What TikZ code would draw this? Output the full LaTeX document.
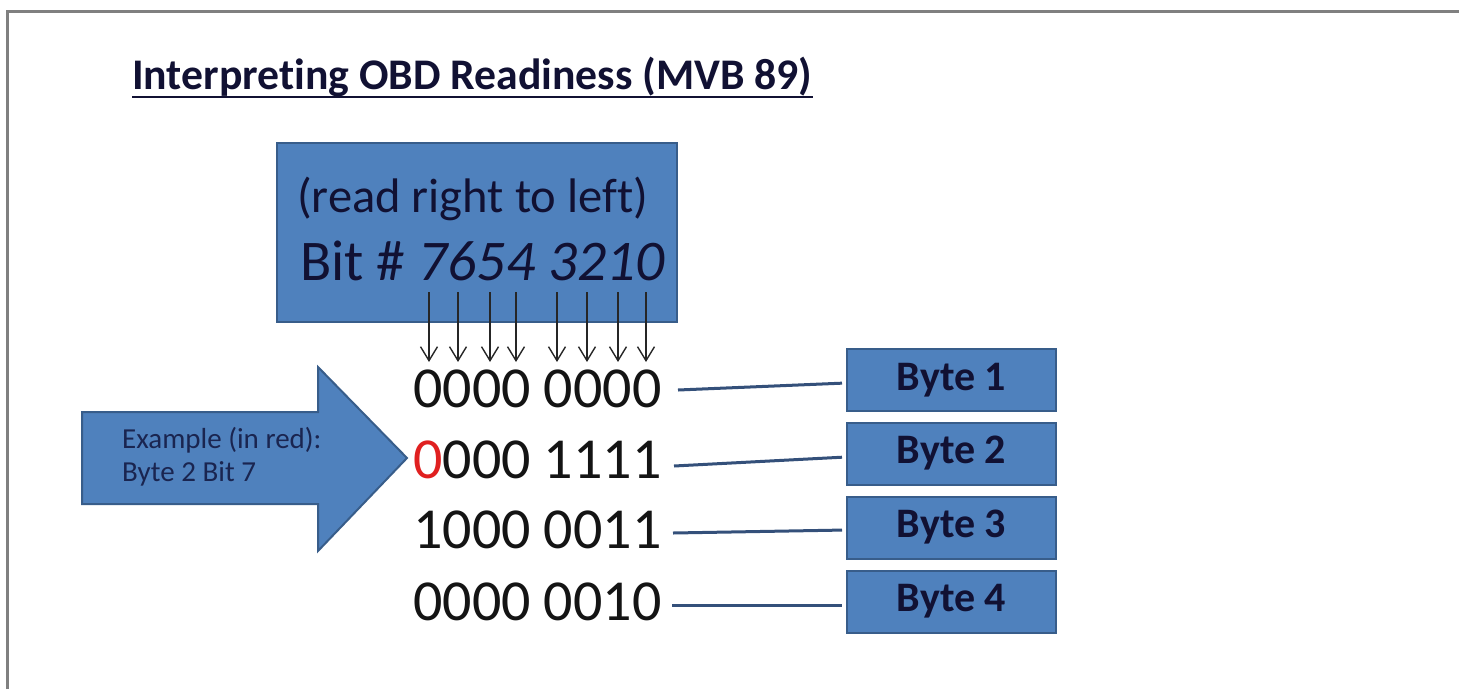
\documentclass[tikz,border=0pt]{standalone}
\usepackage{fontspec}
\setmainfont{Carlito}[Ligatures=NoCommon]
\usetikzlibrary{arrows.meta,calc}
\definecolor{boxblue}{HTML}{4F81BD}
\definecolor{boxedge}{HTML}{385D8A}
\definecolor{navy}{HTML}{111133}
\definecolor{exnavy}{HTML}{1A2550}
\definecolor{framegray}{HTML}{808080}
\definecolor{linkblue}{HTML}{34507A}
\definecolor{ered}{HTML}{E02020}
\begin{document}
\begin{tikzpicture}[x=1pt,y=-1pt,
  txt/.style={inner sep=0pt, anchor=base west},
  bluebox/.style={draw=boxedge, fill=boxblue, line width=2pt},
  bytebox/.style={bluebox, minimum width=209pt, minimum height=62pt, inner sep=0pt, font=\fontsize{42}{50}\selectfont\bfseries, text=navy},
  link/.style={draw=linkblue, line width=3pt, shorten >=4pt},
  bitarrow/.style={draw=black!85, line width=1.4pt, -{Straight Barb[length=14pt,width=17pt]}},
  digits/.style={txt, font=\fontsize{58}{68}\selectfont, text=black!92}
]
\useasboundingbox (0,0) rectangle (1459,689);
\draw[framegray, line width=3pt] (7,689) -- (7,11) -- (1459,11);
% title
\node[txt, font=\fontsize{43.7}{52}\selectfont\bfseries, text=navy] (title) at (132,89) {Interpreting OBD Readiness (MVB 89)};
\draw[navy, line width=2.5pt] ([yshift=-8pt]title.base west) -- ([yshift=-8pt]title.base east);
% bit box
\node[bluebox, minimum width=400pt, minimum height=179pt, inner sep=0pt] (bitbox) at (477,232.5) {};
\node[txt, font=\fontsize{48.5}{56}\selectfont, text=navy] (readdir) at (297,212) {(read right to left)};
\node[txt, font=\fontsize{57.5}{68}\selectfont, text=navy] (bitnum) at (300,280) {Bit \# \textit{7654 3210}};
\foreach \x [count=\i] in {429,458,490,516,557,587,618,646} {
  \coordinate (bs\i) at (\x,292);
  \coordinate (be\i) at (\x,362);
  \draw[bitarrow] (bs\i) -- (be\i);
}
% rows
\node[digits] (row1) at (413,407) {0000 0000};
\node[digits] (row2) at (413,478) {\textcolor{ered}{0}000 1111};
\node[digits] (row3) at (413,548) {1000 0011};
\node[digits] (row4) at (413,620) {0000 0010};
% byte boxes
\node[bytebox] (b1) at (951.5,380) {Byte 1};
\node[bytebox] (b2) at (951.5,453.5) {Byte 2};
\node[bytebox] (b3) at (951.5,527.5) {Byte 3};
\node[bytebox] (b4) at (951.5,601.5) {Byte 4};
\coordinate (l1) at (678,390);
\coordinate (l2) at (674,466);
\coordinate (l3) at (673,533);
\coordinate (l4) at (672,605);
\draw[link] (l1) -- ([yshift=-3pt]b1.west);
\draw[link] (l2) -- ([yshift=-3.5pt]b2.west);
\draw[link] (l3) -- ([yshift=-2.5pt]b3.west);
\draw[link] (l4) -- ([yshift=-3.5pt]b4.west);
% example arrow
\draw[bluebox] (82,412) -- (318,412) -- (318,367) -- (407,458) -- (318,551) -- (318,504) -- (82,504) -- cycle;
\node[txt, font=\fontsize{29}{33}\selectfont, text=exnavy] (ex1) at (122,448) {Example (in red):};
\node[txt, font=\fontsize{29}{33}\selectfont, text=exnavy] (ex2) at (122,481) {Byte 2 Bit 7};
\end{tikzpicture}
\end{document}
